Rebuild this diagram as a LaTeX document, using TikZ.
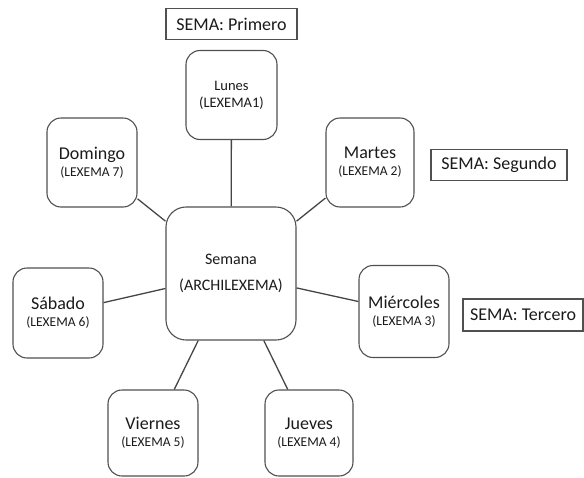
\documentclass[tikz,border=0pt]{standalone}
\usepackage{fontspec}
\setmainfont{Carlito}

\definecolor{boxgray}{HTML}{505050}
\definecolor{linegray}{HTML}{454545}
\definecolor{textblack}{HTML}{1A1A1A}

\tikzset{
  lexbox/.style={draw=boxgray, line width=1.1pt, rounded corners=14pt,
    minimum width=90pt, minimum height=89pt, align=center, text=textblack,
    font=\fontsize{18}{17}\selectfont},
  semabox/.style={draw=boxgray, line width=1.1pt, minimum height=31pt,
    text=textblack, font=\fontsize{18}{20}\selectfont},
  link/.style={draw=linegray, line width=1.3pt},
}
\newcommand{\lexlabel}[1]{{\fontsize{13.5}{17}\selectfont #1}}

\begin{document}
\begin{tikzpicture}[x=1pt, y=-1pt]
  \useasboundingbox (0,0) rectangle (584,477);

  % Archilexema in the middle
  \node[lexbox, minimum width=130pt, minimum height=133pt, rounded corners=20pt,
    font=\fontsize{16}{26}\selectfont] (sem) at (231,273.5) {Semana\\(ARCHILEXEMA)};

  % Lexemas around it
  \node[lexbox, minimum width=91pt, font=\fontsize{14.5}{17}\selectfont] (lun) at (231.5,95) {Lunes\\(LEXEMA1)};
  \node[lexbox, minimum width=88pt] (mar) at (370,162.5) {Martes\\\lexlabel{(LEXEMA 2)}};
  \node[lexbox, minimum height=92pt] (mie) at (404,311.5) {Miércoles\\\lexlabel{(LEXEMA 3)}};
  \node[lexbox, minimum width=88pt, minimum height=86pt] (jue) at (309,433) {Jueves\\\lexlabel{(LEXEMA 4)}};
  \node[lexbox, minimum height=86pt] (vie) at (153,433) {Viernes\\\lexlabel{(LEXEMA 5)}};
  \node[lexbox, minimum height=90pt] (sab) at (58,313) {Sábado\\\lexlabel{(LEXEMA 6)}};
  \node[lexbox] (dom) at (92,162.5) {Domingo\\\lexlabel{(LEXEMA 7)}};

  % Semas
  \node[semabox, minimum width=131pt] (semprim) at (231.5,24) {SEMA: Primero};
  \node[semabox, minimum width=136pt] (semseg) at (499,165) {SEMA: Segundo};
  \node[semabox, minimum width=120pt, minimum height=32pt] (semter) at (523,315) {SEMA: Tercero};

  % Connectors
  \foreach \n in {lun,mar,mie,jue,vie,sab,dom}
    \draw[link] (sem) -- (\n);
\end{tikzpicture}
\end{document}
